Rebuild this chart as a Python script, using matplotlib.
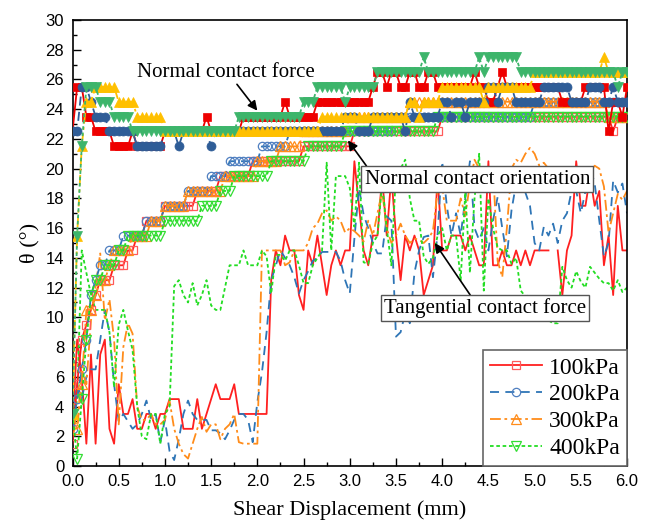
import numpy as np
import matplotlib
matplotlib.use('Agg')
import matplotlib.pyplot as plt
from matplotlib.ticker import MultipleLocator

plt.rcParams['font.family'] = ['Liberation Sans', 'DejaVu Sans']
serif = ['Liberation Serif', 'DejaVu Serif']

# shear displacement (mm), sampled every 0.05 mm
disp = np.round(np.arange(0, 6.001, 0.05), 2)

# normal contact force direction (deg)
nf_100 = [22.5, 25.5, 25.5, 23.5, 23.5, 22.5, 22.5, 22.5, 22.5, 21.5, 21.5, 21.5, 21.5, 22.5, 21.5, 21.5, 21.5, 21.5, 21.5, 21.5,
          22.5, 22.5, 22.5, 22.5, 22.5, 22.5, 22.5, 22.5, 22.5, 23.5, 22.5, 22.5, 22.5, 22.5, 22.5, 22.5, 22.5, 23.5, 23.5, 23.5,
          23.5, 23.5, 23.5, 23.5, 23.5, 23.5, 24.5, 23.5, 23.5, 23.5, 23.5, 23.5, 23.5, 24.5, 24.5, 24.5, 24.5, 24.5, 24.5, 24.5,
          24.5, 24.5, 24.5, 24.5, 24.5, 25.5, 26.5, 26.5, 25.5, 26.5, 26.5, 25.5, 25.5, 26.5, 26.5, 25.5, 25.5, 26.5, 26.5, 25.5,
          25.5, 25.5, 25.5, 25.5, 25.5, 25.5, 25.5, 26.5, 25.5, 25.5, 24.5, 24.5, 25.5, 26.5, 25.5, 25.5, 25.5, 25.5, 25.5, 25.5,
          25.5, 25.5, 25.5, 25.5, 25.5, 25.5, 24.5, 24.5, 24.5, 24.5, 24.5, 25.5, 25.5, 25.5, 25.5, 25.5, 22.5, 24.5, 24.5, 23.5,
          25.5]
nf_200 = [22.5, 22.5, 25.5, 25.5, 24.5, 23.5, 23.5, 23.5, 22.5, 22.5, 22.5, 22.5, 22.5, 22.5, 21.5, 21.5, 21.5, 21.5, 21.5, 21.5,
          22.5, 22.5, 22.5, 21.5, 22.5, 22.5, 22.5, 22.5, 22.5, 22.5, 21.5, 22.5, 22.5, 22.5, 22.5, 22.5, 22.5, 22.5, 22.5, 22.5,
          22.5, 22.5, 22.5, 22.5, 22.5, 22.5, 22.5, 22.5, 22.5, 22.5, 22.5, 22.5, 22.5, 22.5, 22.5, 22.5, 22.5, 22.5, 22.5, 23.5,
          23.5, 23.5, 22.5, 22.5, 22.5, 23.5, 23.5, 23.5, 23.5, 23.5, 23.5, 23.5, 22.5, 24.5, 23.5, 23.5, 23.5, 23.5, 23.5, 23.5,
          24.5, 24.5, 23.5, 24.5, 24.5, 23.5, 24.5, 24.5, 24.5, 24.5, 25.5, 25.5, 24.5, 25.5, 25.5, 25.5, 24.5, 24.5, 24.5, 24.5,
          24.5, 24.5, 25.5, 25.5, 25.5, 25.5, 25.5, 25.5, 24.5, 24.5, 24.5, 24.5, 25.5, 25.5, 25.5, 24.5, 24.5, 25.5, 24.5, 24.5,
          24.5]
nf_300 = [3.5, 15.5, 21.5, 24.5, 24.5, 25.5, 25.5, 25.5, 25.5, 25.5, 24.5, 24.5, 24.5, 24.5, 23.5, 23.5, 23.5, 23.5, 23.5, 23.5,
          22.5, 22.5, 22.5, 22.5, 22.5, 22.5, 22.5, 22.5, 22.5, 22.5, 22.5, 22.5, 22.5, 22.5, 22.5, 22.5, 22.5, 22.5, 22.5, 22.5,
          22.5, 22.5, 22.5, 22.5, 22.5, 22.5, 22.5, 22.5, 22.5, 22.5, 22.5, 22.5, 22.5, 22.5, 23.5, 23.5, 23.5, 23.5, 23.5, 23.5,
          23.5, 23.5, 23.5, 23.5, 23.5, 23.5, 23.5, 23.5, 23.5, 23.5, 23.5, 23.5, 23.5, 24.5, 24.5, 23.5, 24.5, 24.5, 24.5, 24.5,
          25.5, 25.5, 25.5, 25.5, 25.5, 25.5, 25.5, 25.5, 25.5, 24.5, 25.5, 25.5, 25.5, 25.5, 25.5, 25.5, 25.5, 25.5, 25.5, 25.5,
          26.5, 26.5, 26.5, 26.5, 26.5, 26.5, 26.5, 26.5, 26.5, 26.5, 26.5, 26.5, 26.5, 26.5, 26.5, 27.5, 26.5, 26.5, 26.5, 26.5,
          26.5]
nf_400 = [3.5, 15.5, 21.5, 25.5, 25.5, 25.5, 24.5, 24.5, 24.5, 23.5, 23.5, 23.5, 23.5, 22.5, 22.5, 22.5, 22.5, 22.5, 22.5, 22.5,
          22.5, 22.5, 22.5, 22.5, 22.5, 22.5, 22.5, 22.5, 22.5, 22.5, 22.5, 22.5, 22.5, 22.5, 22.5, 22.5, 23.5, 23.5, 23.5, 23.5,
          23.5, 23.5, 23.5, 23.5, 23.5, 23.5, 23.5, 23.5, 23.5, 23.5, 24.5, 24.5, 24.5, 25.5, 25.5, 25.5, 25.5, 25.5, 25.5, 24.5,
          25.5, 25.5, 25.5, 25.5, 25.5, 25.5, 26.5, 26.5, 26.5, 26.5, 26.5, 26.5, 26.5, 26.5, 26.5, 26.5, 27.5, 26.5, 26.5, 26.5,
          26.5, 26.5, 26.5, 26.5, 26.5, 26.5, 26.5, 26.5, 27.5, 26.5, 27.5, 27.5, 27.5, 27.5, 27.5, 27.5, 27.5, 26.5, 26.5, 26.5,
          26.5, 26.5, 26.5, 26.5, 26.5, 26.5, 26.5, 26.5, 26.5, 26.5, 26.5, 26.5, 26.5, 26.5, 26.5, 26.5, 26.5, 26.5, 25.5, 26.5,
          26.5]

# normal contact orientation (deg)
or_100 = [1.5, 5.5, 8.5, 9.5, 10.5, 11.5, 12.5, 12.5, 12.5, 13.5, 13.5, 13.5, 14.5, 14.5, 15.5, 15.5, 16.5, 16.5, 16.5, 16.5,
          17.5, 17.5, 17.5, 17.5, 17.5, 17.5, 17.5, 18.5, 18.5, 18.5, 18.5, 18.5, 19.5, 19.5, 19.5, 19.5, 19.5, 19.5, 19.5, 20.5,
          20.5, 20.5, 20.5, 20.5, 20.5, 20.5, 20.5, 20.5, 20.5, 20.5, 21.5, 21.5, 21.5, 21.5, 21.5, 21.5, 21.5, 21.5, 21.5, 21.5,
          21.5, 22.5, 22.5, 22.5, 22.5, 22.5, 22.5, 22.5, 22.5, 22.5, 22.5, 22.5, 22.5, 22.5, 22.5, 22.5, 22.5, 22.5, 22.5, 22.5,
          23.5, 23.5, 23.5, 23.5, 23.5, 23.5, 23.5, 23.5, 23.5, 23.5, 23.5, 23.5, 23.5, 23.5, 23.5, 23.5, 23.5, 23.5, 23.5, 23.5,
          23.5, 23.5, 23.5, 23.5, 23.5, 23.5, 23.5, 23.5, 23.5, 23.5, 23.5, 23.5, 23.5, 23.5, 23.5, 23.5, 23.5, 22.5, 23.5, 23.5,
          23.5]
or_200 = [2.5, 4.5, 6.5, 8.5, 11.5, 12.5, 13.5, 13.5, 14.5, 14.5, 14.5, 15.5, 15.5, 15.5, 15.5, 15.5, 16.5, 16.5, 16.5, 16.5,
          17.5, 17.5, 17.5, 17.5, 17.5, 18.5, 18.5, 18.5, 18.5, 18.5, 19.5, 19.5, 19.5, 19.5, 20.5, 20.5, 20.5, 20.5, 20.5, 20.5,
          20.5, 21.5, 21.5, 21.5, 21.5, 21.5, 21.5, 22.5, 22.5, 22.5, 22.5, 22.5, 22.5, 22.5, 22.5, 22.5, 22.5, 22.5, 22.5, 22.5,
          22.5, 22.5, 22.5, 22.5, 22.5, 22.5, 22.5, 22.5, 22.5, 22.5, 23.5, 23.5, 23.5, 23.5, 23.5, 23.5, 23.5, 23.5, 23.5, 23.5,
          23.5, 23.5, 23.5, 23.5, 23.5, 23.5, 23.5, 23.5, 23.5, 23.5, 23.5, 23.5, 23.5, 23.5, 23.5, 23.5, 23.5, 23.5, 23.5, 23.5,
          24.5, 24.5, 24.5, 24.5, 24.5, 24.5, 24.5, 24.5, 24.5, 24.5, 24.5, 24.5, 24.5, 24.5, 24.5, 24.5, 24.5, 24.5, 24.5, 24.5,
          24.5]
or_300 = [3.5, 2.5, 5.5, 10.5, 10.5, 11.5, 12.5, 12.5, 13.5, 14.5, 14.5, 14.5, 14.5, 15.5, 15.5, 15.5, 15.5, 16.5, 16.5, 16.5,
          17.5, 17.5, 17.5, 17.5, 17.5, 18.5, 18.5, 18.5, 18.5, 18.5, 18.5, 18.5, 18.5, 19.5, 19.5, 19.5, 19.5, 19.5, 19.5, 19.5,
          20.5, 20.5, 20.5, 20.5, 20.5, 21.5, 21.5, 21.5, 21.5, 21.5, 22.5, 22.5, 22.5, 22.5, 22.5, 22.5, 22.5, 22.5, 22.5, 22.5,
          23.5, 23.5, 23.5, 23.5, 23.5, 23.5, 23.5, 23.5, 23.5, 23.5, 23.5, 23.5, 23.5, 24.5, 24.5, 24.5, 24.5, 24.5, 24.5, 24.5,
          24.5, 24.5, 24.5, 24.5, 24.5, 24.5, 24.5, 24.5, 24.5, 24.5, 24.5, 24.5, 24.5, 24.5, 24.5, 24.5, 24.5, 24.5, 24.5, 24.5,
          24.5, 24.5, 24.5, 24.5, 24.5, 24.5, 24.5, 24.5, 24.5, 24.5, 24.5, 24.5, 24.5, 24.5, 24.5, 24.5, 23.5, 23.5, 23.5, 23.5,
          23.5]
or_400 = [3.5, 0.5, 4.5, 8.5, 11.5, 12.5, 12.5, 13.5, 13.5, 13.5, 14.5, 14.5, 15.5, 15.5, 15.5, 15.5, 15.5, 15.5, 15.5, 15.5,
          16.5, 16.5, 16.5, 16.5, 16.5, 16.5, 16.5, 16.5, 17.5, 17.5, 17.5, 17.5, 18.5, 18.5, 18.5, 19.5, 19.5, 19.5, 19.5, 19.5,
          19.5, 19.5, 19.5, 20.5, 20.5, 20.5, 20.5, 20.5, 20.5, 20.5, 20.5, 21.5, 21.5, 21.5, 21.5, 21.5, 21.5, 21.5, 21.5, 22.5,
          22.5, 22.5, 22.5, 22.5, 22.5, 22.5, 22.5, 22.5, 22.5, 22.5, 22.5, 22.5, 22.5, 22.5, 22.5, 22.5, 22.5, 22.5, 22.5, 23.5,
          23.5, 23.5, 23.5, 23.5, 23.5, 23.5, 23.5, 23.5, 23.5, 23.5, 23.5, 23.5, 23.5, 23.5, 23.5, 23.5, 23.5, 23.5, 23.5, 23.5,
          23.5, 23.5, 23.5, 23.5, 23.5, 23.5, 23.5, 23.5, 23.5, 23.5, 23.5, 23.5, 23.5, 23.5, 23.5, 23.5, 23.5, 23.5, 23.5, 23.5,
          23.5]

# tangential contact force direction (deg)
tf_100 = [2.5, 8.5, 6.0, 1.5, 7.5, 1.5, 7.5, 8.5, 2.5, 1.5, 5.5, 3.5, 3.5, 4.5, 2.5, 2.5, 3.5, 3.5, 2.5, 3.5,
          3.5, 4.5, 4.5, 4.5, 2.5, 2.5, 2.5, 4.5, 2.5, 3.5, 4.5, 5.5, 4.5, 4.5, 4.5, 5.5, 3.5, 3.5, 3.5, 3.5,
          3.5, 3.5, 3.5, 12.5, 14.5, 13.5, 15.5, 14.5, 14.5, 11.5, 10.5, 14.5, 13.5, 15.5, 13.5, 11.5, 13.5, 14.5, 13.5, 14.5,
          14.5, 20.5, 17.5, 14.5, 13.5, 15.5, 15.5, 19.5, 15.5, 19.5, 15.5, 12.5, 15.5, 14.5, 15.5, 14.5, 11.5, 12.5, 13.5, 19.5,
          14.5, 14.5, 15.5, 15.5, 15.5, 14.5, 15.5, 14.5, 13.5, 13.5, 20.5, 13.5, 13.5, 14.5, 13.5, 13.5, 14.5, 13.5, 14.5, 13.5,
          14.5, 14.5, 14.5, 14.5, np.nan, 14.5, 11.5, 14.5, 15.5, 20.5, 17.5, 17.5, 19.5, 17.5, 18.5, 13.5, 15.5, 11.5, 17.5, 14.5,
          14.5]
tf_200 = [3.5, 5.5, 4.5, 6.0, 6.5, 6.5, 8.5, 10.5, 9.0, 5.5, 3.0, 3.5, 3.0, 2.5, 2.8, 3.5, 4.4, 3.1, 3.5, 1.6,
          3.1, 1.0, 0.4, 1.8, 3.5, 4.4, 3.5, 3.1, 3.1, 3.1, 2.4, 2.4, 2.2, 1.8, 2.4, 3.1, 3.5, 3.5, 3.1, 1.6,
          4.3, 6.3, 9.0, 12.5, 13.5, 14.5, 14.0, 13.5, 12.7, 11.6, 12.5, 13.1, 13.8, 14.0, 14.4, 14.4, 14.4, 14.4, 13.8, 12.5,
          11.6, 15.3, 18.7, 16.9, 16.0, 15.0, 14.3, 14.3, 16.8, 16.5, 8.7, 9.0, 10.3, 9.6, 13.0, 14.5, 15.4, 15.5, 12.7, 15.6,
          20.5, 17.5, 15.5, 17.0, 15.5, 18.0, 20.5, 16.0, 15.2, 16.0, 14.5, 16.5, 18.1, 16.0, 14.1, 17.2, 19.0, 20.1, 18.4, 17.5,
          15.0, 14.5, 16.1, 15.5, 16.3, 15.0, 16.5, 17.0, 18.5, 18.5, 17.0, 18.5, 20.1, 19.0, 16.5, 14.1, 15.0, 19.2, 18.4, 19.0,
          17.0]
tf_300 = [3.5, 2.5, 6.5, 5.5, 9.8, 12.1, 14.3, 9.8, 11.2, 8.5, 2.8, 8.0, 9.6, 8.9, 4.0, 3.1, 3.1, 3.5, 2.8, 2.8,
          3.1, 4.4, 2.5, 1.5, 0.8, 0.5, 1.5, 2.5, 3.3, 2.3, 2.8, 2.8, 1.8, 2.5, 2.8, 3.5, 1.6, 1.5, 1.5, 1.5,
          1.5, 14.5, 14.5, 14.5, 14.5, 14.5, 13.5, 13.7, 14.5, 14.5, 14.5, 15.0, 16.0, 16.3, 17.0, 17.2, 16.5, 16.8, 16.5, 15.7,
          16.0, 15.8, 15.5, 15.1, 16.5, 15.5, 17.0, 18.5, 16.0, 15.0, 15.5, 16.3, 15.5, 15.0, 15.3, 15.2, 15.0, 15.3, 15.8, 18.5,
          18.8, 16.5, 16.5, 16.5, 18.0, 16.8, 19.0, 20.6, 20.0, 19.5, 20.1, 20.1, 13.8, 12.7, 16.0, 20.0, 20.6, 20.4, 21.0, 21.4,
          21.0, 20.2, 20.4, 20.0, 19.8, 19.8, 20.0, 20.1, 20.0, 20.1, 19.6, 19.5, 19.8, 20.2, 20.0, 18.8, 15.7, 17.0, 18.3, 17.9,
          18.5]
tf_400 = [2.0, 4.5, 14.5, 13.0, 11.5, 10.5, 10.5, 10.5, 9.0, 5.3, 9.5, 10.5, 9.1, 7.8, 4.0, 2.0, 1.8, 3.5, 3.5, 1.5,
          3.5, 4.0, 12.1, 12.5, 11.5, 11.0, 12.3, 10.8, 11.5, 12.5, 10.8, 10.5, 10.5, 12.0, 13.5, 13.5, 13.5, 14.5, 13.5, 13.5,
          13.5, 14.5, 14.1, 11.6, 14.2, 14.2, 13.8, 14.5, 14.5, 13.5, 12.3, 12.3, 13.5, 14.0, 14.5, 20.4, 14.5, 19.5, 19.5, 19.5,
          18.7, 16.1, 20.4, 13.7, 13.6, 15.0, 15.5, 19.0, 16.0, 13.5, 19.8, 20.0, 20.6, 18.0, 16.5, 16.5, 14.1, 13.6, 14.0, 15.5,
          16.0, 14.5, 15.5, 15.5, 12.5, 18.4, 13.0, 18.0, 21.0, 11.8, 18.0, 16.0, 14.7, 14.5, 14.5, 13.6, 14.0, 11.8, 11.4, 11.5,
          11.0, 10.5, 10.0, 9.8, 9.6, 9.6, 13.4, 12.5, 12.0, 13.1, 12.4, 12.0, 13.4, 13.0, 12.6, 12.3, 12.3, 11.8, 12.5, 11.7,
          12.0]

labels = ['100kPa', '200kPa', '300kPa', '400kPa']

# line styles / colours per confining pressure
line_styles = ['-', (0, (5, 3.5)), (0, (6, 2, 1.5, 2)), (0, (2, 1.5))]
markers = ['s', 'o', '^', 'v']
line_colors = ['#FF2020', '#2E75B6', '#FF8C1A', '#22DD22']
open_colors = ['#FF5A5A', '#4F7FC0', '#FF8C1A', '#33DD33']
fill_colors = ['#EE0000', '#2F5D97', '#FFC000', '#3DB56B']
fill_sizes = [5.5, 6.5, 7, 7]
open_sizes = [5.5, 6, 6.5, 6.5]

fig = plt.figure(figsize=(6.52, 5.25), dpi=100)
ax = fig.add_axes([0.1112, 0.1124, 0.8505, 0.8495])

for i, tf in enumerate([tf_100, tf_200, tf_300, tf_400]):
    ax.plot(disp, tf, color=line_colors[i], ls=line_styles[i], lw=1.3, zorder=2)

for i, orr in enumerate([or_100, or_200, or_300, or_400]):
    ax.plot(disp, orr, color=line_colors[i], ls=line_styles[i], lw=1.3,
            marker=markers[i], ms=open_sizes[i], mfc='none', mec=open_colors[i],
            mew=0.9, zorder=3, label=labels[i])

for i, nf in enumerate([nf_100, nf_200, nf_300, nf_400]):
    ax.plot(disp, nf, color=fill_colors[i], ls=line_styles[i], lw=1.3,
            marker=markers[i], ms=fill_sizes[i], mfc=fill_colors[i], mec=fill_colors[i],
            mew=0.5, zorder=4)

ax.set_xlim(0, 6)
ax.set_ylim(0, 30)
ax.xaxis.set_major_locator(MultipleLocator(0.5))
ax.xaxis.set_minor_locator(MultipleLocator(0.25))
ax.yaxis.set_major_locator(MultipleLocator(2))
ax.yaxis.set_minor_locator(MultipleLocator(1))
ax.tick_params(which='both', direction='in', top=False, right=False, labelsize=12, width=1)
ax.tick_params(which='major', length=6, pad=6)
ax.tick_params(which='minor', length=3)
for sp in ax.spines.values():
    sp.set_linewidth(1.2)

ax.set_xlabel('Shear Displacement (mm)', family=serif, fontsize=16, labelpad=8)
ax.set_ylabel('θ (°)', family=serif, fontsize=16, labelpad=4)

arrow = dict(arrowstyle='-|>', color='k', lw=1.2, mutation_scale=14, shrinkA=0, shrinkB=0)
box = dict(boxstyle='square,pad=0.15', fc='white', ec='#555555', lw=1)

ax.annotate('Normal contact force', xy=(2.0, 23.9), xytext=(1.66, 26.5),
            ha='center', va='center', fontsize=15, family=serif, zorder=6,
            arrowprops=dict(arrow, relpos=(0.55, 0.0)))
ax.annotate('Normal contact orientation', xy=(2.98, 21.9), xytext=(4.38, 19.3),
            ha='center', va='center', fontsize=15, family=serif, zorder=6, bbox=box,
            arrowprops=dict(arrow, relpos=(0.02, 1.0)))
ax.annotate('Tangential contact force', xy=(3.92, 15.0), xytext=(4.46, 10.6),
            ha='center', va='center', fontsize=15, family=serif, zorder=6, bbox=box,
            arrowprops=dict(arrow, relpos=(0.44, 1.0)))

leg = ax.legend(loc='lower right', borderaxespad=0, prop={'family': serif, 'size': 17},
                fancybox=False, edgecolor='#666666', framealpha=1, handlelength=2.2,
                labelspacing=0.22, borderpad=0.3, handletextpad=0.3)
leg.get_frame().set_linewidth(1.2)
leg.set_zorder(7)

fig.savefig('out.png', dpi=100)
